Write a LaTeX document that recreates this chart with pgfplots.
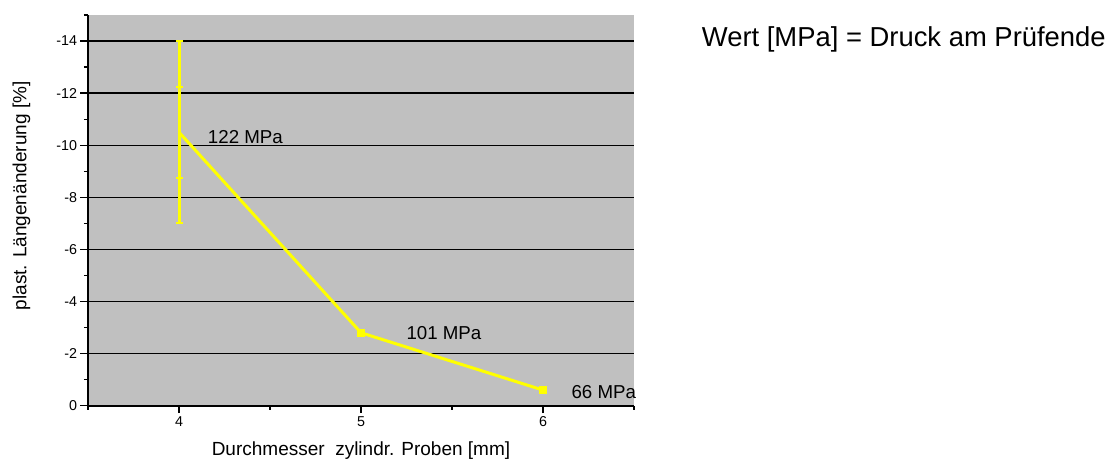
\documentclass[border=0pt]{standalone}
\usepackage{pgfplots}
\pgfplotsset{compat=1.18}
\usepackage{fontspec}
\setmainfont{Liberation Sans}
\definecolor{plotgray}{RGB}{192,192,192}
\definecolor{ylw}{RGB}{255,255,0}
\begin{document}
\begin{tikzpicture}[x=1pt,y=1pt]
\useasboundingbox (0,0) rectangle (1119,461);
\begin{axis}[
  at={(88pt,55.3pt)}, anchor=south west,
  scale only axis, width=546pt, height=390.7pt,
  xmin=3.5, xmax=6.5, ymin=-15, ymax=0, y dir=reverse,
  axis x line*=bottom, axis y line*=left,
  axis line style={-, line width=1.8pt, black},
  axis background/.style={fill=plotgray},
  xtick={4,5,6}, minor xtick={3.5,4.5,5.5,6.5},
  ytick={-14,-12,...,0}, minor ytick={-15,-13,...,-1},
  tick align=outside, major tick length=7.5pt, minor tick length=4pt,
  every tick/.style={black, line width=1.3pt},
  ymajorgrids, major grid style={black, line width=1.3pt},
  /pgf/number format/assume math mode=true,
  tick label style={font=\fontsize{14.3}{17}\selectfont},
  xlabel={Durchmesser\ \ zylindr. Proben [mm]},
  ylabel={plast. Längenänderung [\%]},
  label style={font=\fontsize{19}{23}\selectfont},
  xlabel style={at={(axis description cs:0.5,-0.1287)}, anchor=base},
  ylabel style={at={(axis description cs:-0.122,0.537)}, anchor=center},
  clip=false,
]
\addplot[ylw, draw=none, mark=none, forget plot,
  error bars/.cd, y dir=both, y explicit,
  error bar style={draw=ylw, line width=3pt},
  error mark options={rotate=90, draw=ylw, line width=2pt, mark size=3.5pt}]
  coordinates {(4,-10.5) +- (0,3.5)};
\addplot[ylw, draw=none, mark=none, forget plot,
  error bars/.cd, y dir=both, y explicit,
  error bar style={draw=ylw, line width=3pt},
  error mark options={rotate=90, draw=ylw, line width=2pt, mark size=3.5pt}]
  coordinates {(4,-10.5) +- (0,1.75)};
\addplot[ylw, line width=3pt, mark=square*, mark size=3.5pt, mark indices={2,3},
  mark options={solid, fill=ylw, draw=ylw, line width=0.5pt}]
  coordinates {(4,-10.5) (5,-2.8) (6,-0.6)};
\node[anchor=base west, inner sep=0pt, font=\fontsize{18.7}{22}\selectfont] at (axis cs:4.158,-10.07) {122 MPa};
\node[anchor=base west, inner sep=0pt, font=\fontsize{18.7}{22}\selectfont] at (axis cs:5.249,-2.55) {101 MPa};
\node[anchor=base west, inner sep=0pt, font=\fontsize{18.7}{22}\selectfont] at (axis cs:6.156,-0.28) {66 MPa};
\end{axis}
\node[anchor=base west, inner sep=0pt, font=\fontsize{27.4}{31}\selectfont] at (701.7,414) {Wert [MPa] = Druck am Prüfende};
\end{tikzpicture}
\end{document}
